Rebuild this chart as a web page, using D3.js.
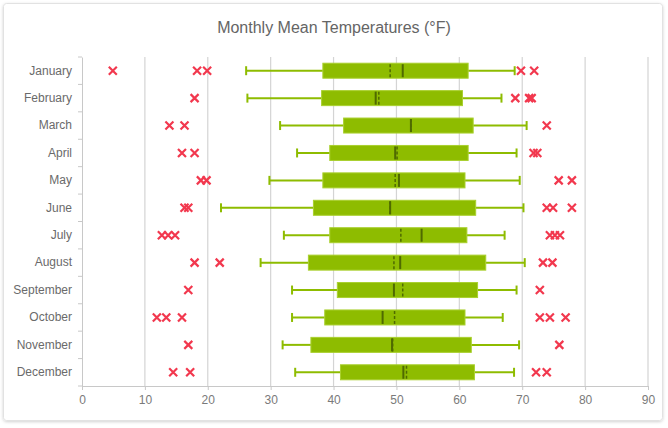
<!DOCTYPE html>
<html>
<head>
<meta charset="utf-8">
<script src="https://cdn.jsdelivr.net/npm/d3@7/dist/d3.min.js"></script>
<style>
  html, body { margin: 0; padding: 0; background: #fff; }
  svg { display: block; font-family: "Liberation Sans", Arial, sans-serif; }
</style>
</head>
<body>
<svg id="chart" width="668" height="428"></svg>
<script>
const months = ["January","February","March","April","May","June","July","August","September","October","November","December"];
const lower  = [26.1, 26.3, 31.5, 34.2, 29.8, 22.1, 32.1, 28.4, 33.4, 33.4, 31.9, 33.9];
const q1     = [38.3, 38.1, 41.6, 39.4, 38.3, 36.8, 39.4, 36.0, 40.6, 38.6, 36.4, 41.1];
const median = [51.0, 46.7, 52.3, 49.8, 50.4, 49.0, 54.0, 50.6, 49.6, 47.8, 49.3, 51.1];
const mean   = [49.0, 47.2, 52.3, 50.1, 49.8, 49.0, 50.7, 49.6, 51.0, 49.7, 49.4, 51.6];
const q3     = [61.4, 60.5, 62.2, 61.4, 60.9, 62.6, 61.2, 64.2, 62.9, 60.9, 61.9, 62.4];
const upper  = [68.8, 66.7, 70.7, 69.1, 69.6, 70.2, 67.2, 70.4, 69.1, 66.9, 69.5, 68.7];
const outliers = [
  [4.9, 18.3, 19.9, 69.8, 71.9],
  [17.9, 68.9, 71.1, 71.5],
  [13.9, 16.3, 73.9],
  [15.9, 17.9, 71.8, 72.4],
  [18.9, 19.8, 75.8, 77.9],
  [16.3, 16.9, 73.9, 74.9, 77.9],
  [12.7, 13.7, 14.8, 74.4, 75.2, 76.0],
  [17.9, 21.9, 73.3, 74.8],
  [16.9, 72.8],
  [11.9, 13.4, 15.9, 72.8, 74.4, 76.9],
  [16.9, 75.9],
  [14.5, 17.2, 72.2, 73.9]
];
const xTicks = [0, 10, 20, 30, 40, 50, 60, 70, 80, 90];
const title = "Monthly Mean Temperatures (°F)";

const svg = d3.select("#chart");
const W = 668, H = 428;
const m = { left: 82, right: 20, top: 57, bottom: 42 };

// frame
const defs = svg.append("defs");
const f = defs.append("filter").attr("id", "sh").attr("x", "-5%").attr("y", "-5%").attr("width", "110%").attr("height", "110%");
f.append("feDropShadow").attr("dx", 0).attr("dy", 1).attr("stdDeviation", 1.5).attr("flood-color", "#000").attr("flood-opacity", 0.18);
svg.append("rect").attr("x", 3.5).attr("y", 3.5).attr("width", 659).attr("height", 417)
  .attr("rx", 3).attr("fill", "#fff").attr("stroke", "#e2e2e2").attr("filter", "url(#sh)");

svg.append("text").attr("x", 334).attr("y", 33).attr("text-anchor", "middle")
  .attr("font-size", 16).attr("fill", "#656565").text(title);

const x = d3.scaleLinear().domain([0, 90]).range([m.left, 648]);
const y = d3.scaleBand().domain(months).range([m.top, 386]);

// gridlines
svg.append("g").selectAll("line").data(xTicks.slice(1)).join("line")
  .attr("x1", d => x(d)).attr("x2", d => x(d))
  .attr("y1", m.top).attr("y2", 386)
  .attr("stroke", "#d4d4d4").attr("stroke-width", 1.2);

// x axis
const xAxis = svg.append("g").attr("transform", "translate(0,386)")
  .call(d3.axisBottom(x).tickValues(xTicks).tickSize(4).tickPadding(5).tickFormat(d3.format("d")));
xAxis.select(".domain").attr("stroke", "#c8c8c8");
xAxis.selectAll(".tick line").attr("stroke", "#c8c8c8");
xAxis.selectAll("text").attr("font-size", 12).attr("fill", "#7a7a7a").attr("font-family", "Liberation Sans, Arial, sans-serif");

// y axis
const yAxis = svg.append("g").attr("transform", `translate(${m.left},0)`)
  .call(d3.axisLeft(y).tickSize(0).tickPadding(10));
yAxis.select(".domain").attr("stroke", "#c8c8c8");
yAxis.selectAll("text").attr("font-size", 12).attr("fill", "#6a6a6a").attr("font-family", "Liberation Sans, Arial, sans-serif");
// band boundary ticks
const bounds = months.map(mo => y(mo)).concat([386]);
yAxis.selectAll("line.bt").data(bounds).join("line").attr("class", "bt")
  .attr("x1", -4).attr("x2", 0).attr("y1", d => d).attr("y2", d => d)
  .attr("stroke", "#c8c8c8");

const green = "#8ebc00", dark = "#4f6a00";
const bw = y.bandwidth();
const boxH = 15, capH = 9;

const g = svg.append("g").selectAll("g").data(months).join("g")
  .attr("transform", d => `translate(0,${y(d) + bw / 2})`);

// whiskers
g.append("line").attr("x1", (d, i) => x(lower[i])).attr("x2", (d, i) => x(q1[i]))
  .attr("y1", 0).attr("y2", 0).attr("stroke", green).attr("stroke-width", 2);
g.append("line").attr("x1", (d, i) => x(q3[i])).attr("x2", (d, i) => x(upper[i]))
  .attr("y1", 0).attr("y2", 0).attr("stroke", green).attr("stroke-width", 2);
g.append("line").attr("x1", (d, i) => x(lower[i])).attr("x2", (d, i) => x(lower[i]))
  .attr("y1", -capH / 2).attr("y2", capH / 2).attr("stroke", green).attr("stroke-width", 2);
g.append("line").attr("x1", (d, i) => x(upper[i])).attr("x2", (d, i) => x(upper[i]))
  .attr("y1", -capH / 2).attr("y2", capH / 2).attr("stroke", green).attr("stroke-width", 2);

// boxes
g.append("rect").attr("x", (d, i) => x(q1[i])).attr("width", (d, i) => x(q3[i]) - x(q1[i]))
  .attr("y", -boxH / 2).attr("height", boxH)
  .attr("fill", green).attr("stroke", "#a9d02e").attr("stroke-width", 1);

// mean (dashed) and median (solid)
g.append("line").attr("x1", (d, i) => x(mean[i])).attr("x2", (d, i) => x(mean[i]))
  .attr("y1", -boxH / 2 + 1).attr("y2", boxH / 2 - 1)
  .attr("stroke", dark).attr("stroke-width", 1.5).attr("stroke-dasharray", "3,2");
g.append("line").attr("x1", (d, i) => x(median[i])).attr("x2", (d, i) => x(median[i]))
  .attr("y1", -boxH / 2 + 1).attr("y2", boxH / 2 - 1)
  .attr("stroke", dark).attr("stroke-width", 2);

// outliers
const s = 4;
g.each(function (d, i) {
  const sel = d3.select(this).selectAll("path.o").data(outliers[i]).join("path").attr("class", "o")
    .attr("d", v => `M${x(v) - s},${-s}L${x(v) + s},${s}M${x(v) - s},${s}L${x(v) + s},${-s}`)
    .attr("stroke", "#f2384e").attr("stroke-width", 2.2).attr("fill", "none");
});
</script>
</body>
</html>
